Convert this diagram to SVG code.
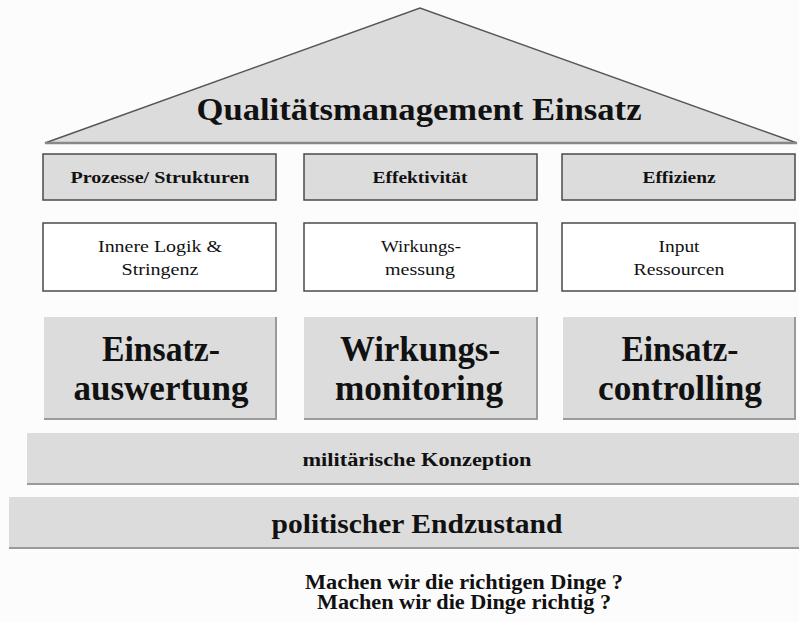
<svg xmlns="http://www.w3.org/2000/svg" width="799" height="622" viewBox="0 0 799 622">
<style>
text{font-family:"Liberation Serif","Times New Roman",serif;fill:#111;text-anchor:middle}
.b{font-weight:bold}
.hdr{fill:#dcdcdc;stroke:#4a4a4a;stroke-width:1.5}
.wht{fill:#ffffff;stroke:#4a4a4a;stroke-width:1.5}
.pil{fill:#dcdcdc}
.edge{stroke:#9a9a9a;stroke-width:2;fill:none}
.t1{font-size:17px}
.t2{font-size:17px}
.t3{font-size:35px}
</style>
<rect x="0" y="0" width="799" height="622" fill="#fcfcfc"/>
<g id="roof">
<polygon points="45,143 420,8 797,143" fill="#dcdcdc" stroke="#555" stroke-width="1.5"/>
<line x1="45" y1="143" x2="797" y2="143" stroke="#888" stroke-width="2.5"/>
<text class="b" x="419" y="120" font-size="31" textLength="445" lengthAdjust="spacingAndGlyphs">Qualitätsmanagement Einsatz</text>
</g>
<g id="h1">
<rect class="hdr" x="43" y="154" width="233" height="46"/>
<text class="b t1" x="160" y="183" textLength="179" lengthAdjust="spacingAndGlyphs">Prozesse/ Strukturen</text>
</g>
<g id="h2">
<rect class="hdr" x="304" y="154" width="233" height="46"/>
<text class="b t1" x="420" y="183" textLength="95" lengthAdjust="spacingAndGlyphs">Effektivität</text>
</g>
<g id="h3">
<rect class="hdr" x="562" y="154" width="233" height="46"/>
<text class="b t1" x="679" y="183" textLength="73" lengthAdjust="spacingAndGlyphs">Effizienz</text>
</g>
<g id="w1">
<rect class="wht" x="43" y="223" width="233" height="68"/>
<text class="t2" x="160" y="252" textLength="124" lengthAdjust="spacingAndGlyphs">Innere Logik &amp;</text>
<text class="t2" x="160" y="275" textLength="77" lengthAdjust="spacingAndGlyphs">Stringenz</text>
</g>
<g id="w2">
<rect class="wht" x="304" y="223" width="233" height="68"/>
<text class="t2" x="421" y="252" textLength="80" lengthAdjust="spacingAndGlyphs">Wirkungs-</text>
<text class="t2" x="420" y="275" textLength="70" lengthAdjust="spacingAndGlyphs">messung</text>
</g>
<g id="w3">
<rect class="wht" x="562" y="223" width="233" height="68"/>
<text class="t2" x="679" y="252" textLength="41" lengthAdjust="spacingAndGlyphs">Input</text>
<text class="t2" x="679" y="275" textLength="91" lengthAdjust="spacingAndGlyphs">Ressourcen</text>
</g>
<g id="p1">
<rect class="pil" x="44" y="317" width="232" height="102"/>
<polyline class="edge" points="44,419 276,419 276,317"/>
<text class="b t3" x="161" y="361" textLength="118" lengthAdjust="spacingAndGlyphs">Einsatz-</text>
<text class="b t3" x="161" y="400" textLength="175" lengthAdjust="spacingAndGlyphs">auswertung</text>
</g>
<g id="p2">
<rect class="pil" x="304" y="317" width="233" height="102"/>
<polyline class="edge" points="304,419 537,419 537,317"/>
<text class="b t3" x="420" y="361" textLength="160" lengthAdjust="spacingAndGlyphs">Wirkungs-</text>
<text class="b t3" x="419" y="400" textLength="168" lengthAdjust="spacingAndGlyphs">monitoring</text>
</g>
<g id="p3">
<rect class="pil" x="563" y="317" width="232" height="102"/>
<polyline class="edge" points="563,419 795,419 795,317"/>
<text class="b t3" x="680" y="361" textLength="117" lengthAdjust="spacingAndGlyphs">Einsatz-</text>
<text class="b t3" x="680" y="400" textLength="164" lengthAdjust="spacingAndGlyphs">controlling</text>
</g>
<g id="konzeption">
<rect class="pil" x="27" y="433" width="772" height="51"/>
<line class="edge" x1="27" y1="484" x2="799" y2="484"/>
<text class="b" x="417" y="466" font-size="19" textLength="229" lengthAdjust="spacingAndGlyphs">militärische Konzeption</text>
</g>
<g id="endzustand">
<rect class="pil" x="9" y="497" width="790" height="51"/>
<line class="edge" x1="9" y1="548" x2="799" y2="548"/>
<text class="b" x="417" y="533" font-size="27" textLength="291" lengthAdjust="spacingAndGlyphs">politischer Endzustand</text>
</g>
<g id="questions">
<text class="b" x="464" y="589" font-size="20" textLength="318" lengthAdjust="spacingAndGlyphs">Machen wir die richtigen Dinge ?</text>
<text class="b" x="464" y="609" font-size="20" textLength="294" lengthAdjust="spacingAndGlyphs">Machen wir die Dinge richtig ?</text>
</g>
<g id="connectors"/>
</svg>
